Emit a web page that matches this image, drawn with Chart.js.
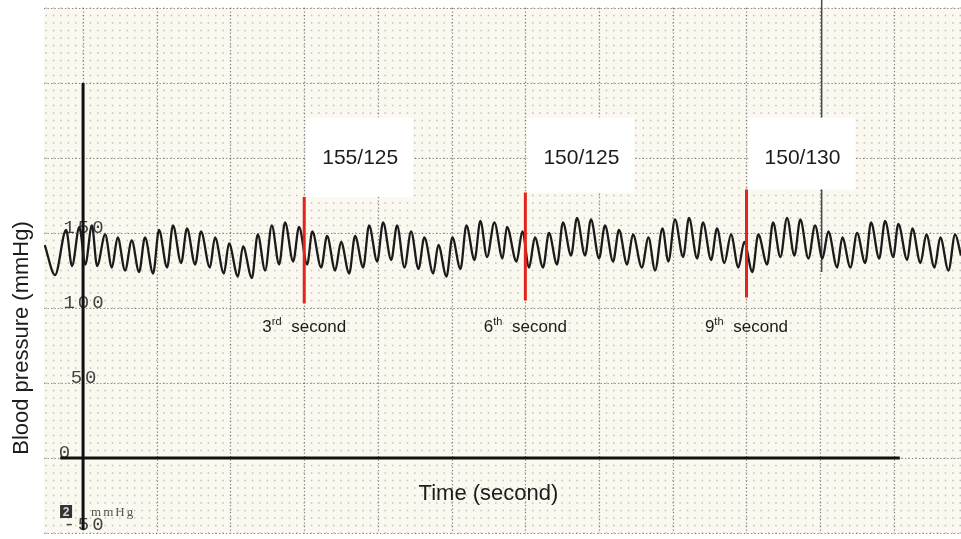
<!DOCTYPE html>
<html>
<head>
<meta charset="utf-8">
<script src="https://cdn.jsdelivr.net/npm/chart.js@4.4.0/dist/chart.umd.min.js"></script>
<style>
  body { margin: 0; background: #fff; }
  #wrap { width: 961px; height: 539px; position: relative; }
</style>
</head>
<body>
<div id="wrap"><canvas id="bp"></canvas></div>
<script>
// peaks and troughs of the recorded trace, time in seconds
var traceTime = [
  -0.52, -0.38, -0.23, -0.15, -0.05, 0.03, 0.12, 0.19, 0.30, 0.39,
  0.47, 0.57, 0.66, 0.76, 0.84, 0.95, 1.03, 1.14, 1.22, 1.33,
  1.41, 1.52, 1.60, 1.72, 1.79, 1.91, 1.98, 2.10, 2.17, 2.29,
  2.37, 2.47, 2.56, 2.66, 2.74, 2.85, 2.93, 3.04, 3.11, 3.23,
  3.31, 3.42, 3.50, 3.61, 3.69, 3.80, 3.88, 3.99, 4.07, 4.18,
  4.26, 4.36, 4.45, 4.55, 4.63, 4.75, 4.82, 4.93, 5.01, 5.12,
  5.20, 5.31, 5.39, 5.48, 5.58, 5.69, 5.75, 5.88, 5.96, 6.05,
  6.13, 6.24, 6.32, 6.43, 6.51, 6.62, 6.70, 6.81, 6.89, 7.00,
  7.08, 7.19, 7.27, 7.38, 7.46, 7.58, 7.67, 7.76, 7.86, 7.94,
  8.03, 8.14, 8.22, 8.33, 8.41, 8.52, 8.60, 8.70, 8.79, 8.89,
  8.97, 9.08, 9.16, 9.28, 9.36, 9.46, 9.55, 9.65, 9.73, 9.84,
  9.93, 10.03, 10.11, 10.23, 10.30, 10.41, 10.50, 10.61, 10.69, 10.80,
  10.88, 10.99, 11.06, 11.18, 11.25, 11.36, 11.44, 11.55, 11.63, 11.74,
  11.83, 11.91
];
// pressure at those points (mmHg)
var tracePressure = [
  142, 122, 152, 128, 154, 129, 155, 128, 149, 127,
  147, 125, 145, 124, 147, 123, 152, 127, 155, 130,
  153, 129, 151, 127, 147, 123, 143, 121, 141, 120,
  149, 125, 155, 129, 157, 131, 154, 129, 151, 127,
  148, 125, 144, 123, 148, 127, 155, 131, 157, 132,
  155, 127, 151, 126, 147, 123, 142, 121, 147, 126,
  155, 132, 158, 134, 157, 133, 154, 131, 151, 127,
  147, 127, 150, 129, 157, 135, 160, 135, 159, 133,
  155, 131, 152, 129, 149, 127, 147, 125, 153, 131,
  159, 134, 160, 133, 157, 132, 153, 130, 149, 127,
  144, 124, 149, 129, 157, 134, 160, 135, 159, 133,
  155, 133, 151, 127, 147, 127, 150, 130, 157, 133,
  158, 134, 156, 132, 153, 130, 149, 127, 147, 125,
  149, 135
];

// red markers
var markTime = [3, 6, 9];
var markLow = [103, 105, 107];
var markHigh = [174, 177, 179];
var markReading = ['155/125', '150/125', '150/130'];
var markOrdinal = ['rd', 'th', 'th'];
var boxTopPressure = 227;
var ordinalPressure = 84;

// printed paper scale
var pressureTicks = [150, 100, 50, 0, -50];
var timeAxisSpan = [-0.31, 11.08];
var pressureAxisSpan = [-48, 250];
var penTime = 10.02;
var penSpan = [124, 306];

var trace = [];
for (var i = 0; i < traceTime.length; i++) trace.push({x: traceTime[i], y: tracePressure[i]});

var datasets = [];
for (var m = 0; m < markTime.length; m++) {
  datasets.push({
    data: [{x: markTime[m], y: markLow[m]}, {x: markTime[m], y: markHigh[m]}],
    borderColor: '#e3231c', borderWidth: 3, pointRadius: 0, order: 0
  });
}
datasets.push({
  data: trace, borderColor: '#1b1b1b', borderWidth: 2.3,
  cubicInterpolationMode: 'monotone', pointRadius: 0, order: 1
});
datasets.push({
  data: [{x: timeAxisSpan[0], y: 0}, {x: timeAxisSpan[1], y: 0}],
  borderColor: '#111', borderWidth: 3, pointRadius: 0, order: 2
});
datasets.push({
  data: [{x: 0, y: pressureAxisSpan[0]}, {x: 0, y: pressureAxisSpan[1]}],
  borderColor: '#111', borderWidth: 3, pointRadius: 0, order: 2
});
datasets.push({
  data: [{x: penTime, y: penSpan[0]}, {x: penTime, y: penSpan[1]}],
  borderColor: '#4a4a4a', borderWidth: 1.5, pointRadius: 0, order: 2, clip: false
});

var paper = {
  id: 'paper',
  beforeDatasetsDraw: function(chart) {
    var ctx = chart.ctx, a = chart.chartArea, xs = chart.scales.x, ys = chart.scales.y;
    ctx.save();
    ctx.fillStyle = '#fbf8ef';
    ctx.fillRect(a.left, a.top, a.right - a.left, a.bottom - a.top);

    // small dots every 0.1 s / 5 mmHg
    ctx.fillStyle = 'rgba(115,115,115,0.42)';
    for (var i = Math.ceil(xs.min * 10); i <= Math.floor(xs.max * 10); i++) {
      var px = xs.getPixelForValue(i / 10);
      for (var j = Math.ceil(ys.min / 5); j <= Math.floor(ys.max / 5); j++) {
        var py = ys.getPixelForValue(j * 5);
        ctx.fillRect(px - 0.75, py - 0.75, 1.5, 1.5);
      }
    }
    // dotted major lines every second / 50 mmHg
    ctx.strokeStyle = 'rgba(95,95,95,0.75)';
    ctx.lineWidth = 1.2;
    ctx.setLineDash([1.3, 2.2]);
    for (var s = Math.ceil(xs.min); s <= xs.max; s++) {
      var sx = Math.round(xs.getPixelForValue(s)) + 0.5;
      ctx.beginPath(); ctx.moveTo(sx, a.top); ctx.lineTo(sx, a.bottom); ctx.stroke();
    }
    for (var p = Math.ceil(ys.min / 50) * 50; p <= ys.max; p += 50) {
      var sy = Math.round(ys.getPixelForValue(p)) + 0.5;
      ctx.beginPath(); ctx.moveTo(a.left, sy); ctx.lineTo(a.right, sy); ctx.stroke();
    }
    ctx.setLineDash([]);

    // printed scale numbers
    var ax = xs.getPixelForValue(0);
    ctx.fillStyle = '#444';
    ctx.font = '19px "Liberation Mono", monospace';
    ctx.letterSpacing = '3px';
    ctx.textBaseline = 'alphabetic';
    pressureTicks.forEach(function(v) {
      var label = String(v);
      var ty = ys.getPixelForValue(v) - (v === ys.min ? 3 : 0);
      if (label.length === 1) {
        ctx.textAlign = 'right';
        ctx.fillText(label, ax - 10, ty);
      } else {
        ctx.textAlign = 'center';
        ctx.fillText(label, ax + 2, ty);
      }
    });

    // range marker "2 mmHg"
    var by = ys.getPixelForValue(-50);
    ctx.letterSpacing = '0px';
    ctx.fillStyle = '#333';
    ctx.fillRect(ax - 23, by - 28, 12, 13);
    ctx.fillStyle = '#d8d8d8';
    ctx.font = 'bold 12px "Liberation Sans"';
    ctx.textAlign = 'center';
    ctx.fillText('2', ax - 17, by - 17);
    ctx.fillStyle = '#555';
    ctx.font = '13px "Liberation Serif"';
    ctx.letterSpacing = '2px';
    ctx.textAlign = 'left';
    ctx.fillText('mmHg', ax + 8, by - 17);
    ctx.restore();
  },
  afterDatasetsDraw: function(chart) {
    var ctx = chart.ctx, xs = chart.scales.x, ys = chart.scales.y;
    var boxTop = ys.getPixelForValue(boxTopPressure);
    var ty = ys.getPixelForValue(ordinalPressure);
    ctx.save();
    for (var m = 0; m < markTime.length; m++) {
      var lx = xs.getPixelForValue(markTime[m]);
      var top = ys.getPixelForValue(markHigh[m]);
      // white reading box
      ctx.fillStyle = '#ffffff';
      ctx.fillRect(lx + 2, boxTop, 107, top - boxTop);
      ctx.fillStyle = '#1c1c1c';
      ctx.font = '21px "Liberation Sans"';
      ctx.textAlign = 'center';
      ctx.textBaseline = 'middle';
      ctx.fillText(markReading[m], lx + 56, boxTop + 41);

      // "3rd second"
      ctx.textBaseline = 'alphabetic';
      ctx.textAlign = 'left';
      var num = String(markTime[m]), rest = ' second';
      ctx.font = '17px "Liberation Sans"';
      var w1 = ctx.measureText(num).width, w3 = ctx.measureText(rest).width;
      ctx.font = '11px "Liberation Sans"';
      var w2 = ctx.measureText(markOrdinal[m]).width;
      var sx = lx - (w1 + w2 + w3 + 5) / 2;
      ctx.font = '17px "Liberation Sans"';
      ctx.fillText(num, sx, ty);
      ctx.font = '11px "Liberation Sans"';
      ctx.fillText(markOrdinal[m], sx + w1, ty - 7);
      ctx.font = '17px "Liberation Sans"';
      ctx.fillText(rest, sx + w1 + w2 + 5, ty);
    }
    ctx.restore();
  },
  afterDraw: function(chart) {
    var ctx = chart.ctx, xs = chart.scales.x, ys = chart.scales.y;
    ctx.save();
    ctx.fillStyle = '#1c1c1c';
    ctx.font = '22px "Liberation Sans"';
    ctx.textAlign = 'center';
    ctx.textBaseline = 'alphabetic';
    ctx.fillText('Time (second)', xs.getPixelForValue(5.5), ys.getPixelForValue(0) + 42);
    ctx.translate(28, ys.getPixelForValue(80));
    ctx.rotate(-Math.PI / 2);
    ctx.fillText('Blood pressure (mmHg)', 0, 0);
    ctx.restore();
  }
};

new Chart(document.getElementById('bp').getContext('2d'), {
  type: 'line',
  data: { datasets: datasets },
  options: {
    responsive: true,
    maintainAspectRatio: false,
    animation: false,
    layout: { padding: { left: 44, top: 8, right: 0, bottom: 6 } },
    plugins: { legend: { display: false }, tooltip: { enabled: false } },
    scales: {
      x: { type: 'linear', min: -0.53, max: 11.91, display: false },
      y: { type: 'linear', min: -50, max: 300, display: false }
    }
  },
  plugins: [paper]
});
</script>
</body>
</html>
